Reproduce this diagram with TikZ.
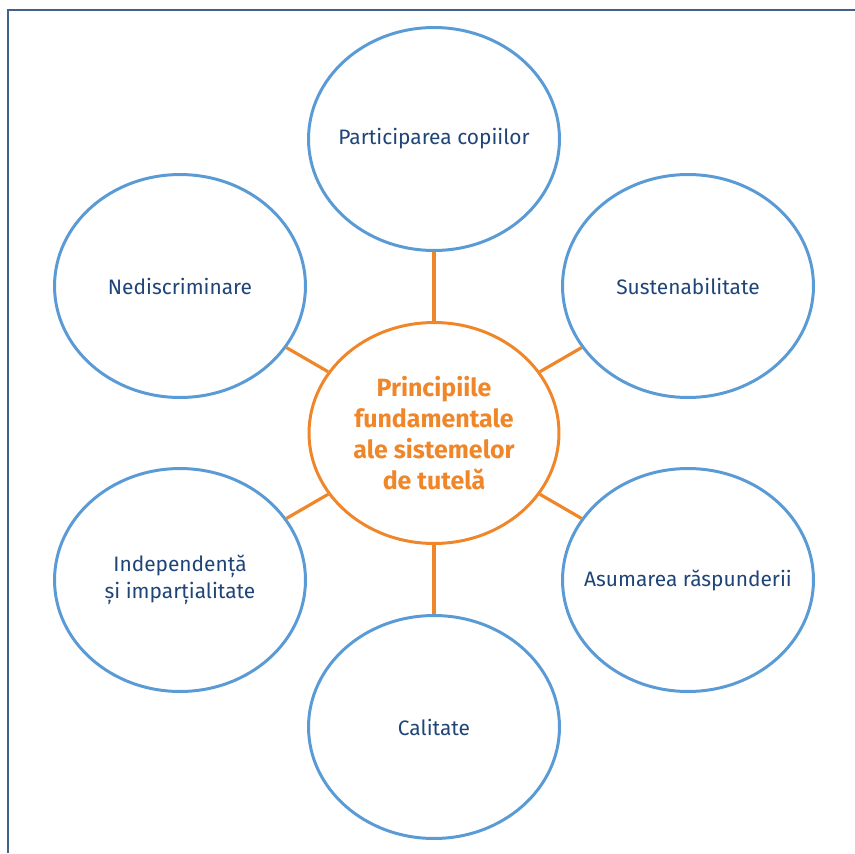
\documentclass[tikz,border=0pt]{standalone}
\usepackage{fontspec}
\setmainfont{Fira Sans}
\usepackage{xcolor}
\usetikzlibrary{shapes.geometric}
\definecolor{cerc}{HTML}{5B9BD5}
\definecolor{portocaliu}{HTML}{EF8629}
\definecolor{textalbastru}{HTML}{1F4477}
\definecolor{chenar}{HTML}{41608A}
\tikzset{
    principiu/.style={ellipse, draw=cerc, line width=1.7pt, minimum width=5.02cm, minimum height=4.46cm},
    eticheta/.style={align=center, inner sep=0pt, text=textalbastru, font=\fontsize{11.9}{15.5}\selectfont},
    centru/.style={ellipse, draw=portocaliu, line width=1.7pt, minimum width=5.0cm, minimum height=4.42cm,
        align=center, text=portocaliu, font=\bfseries\fontsize{14.2}{17.6}\selectfont},
    legatura/.style={draw=portocaliu, line width=1.8pt}
}

\begin{document}
\begin{tikzpicture}[x=0.02cm,y=-0.02cm]
    \useasboundingbox (0,0) rectangle (855,853);
    % Draw outside frame
    \draw[chenar, line width=0.85pt] (8,853) -- (8,10) -- (855,10);
    % Draw central node
    \node[centru] (principii) at (434,433) {Principiile\\fundamentale\\ale sistemelor\\de tutelă};
    % Draw surrounding principles
    \node[principiu] (participare) at (434,139) {};
    \node[principiu] (sustenabilitate) at (688,286) {};
    \node[principiu] (asumare) at (688,580) {};
    \node[principiu] (calitate) at (434,727) {};
    \node[principiu] (independenta) at (180,580) {};
    \node[principiu] (nediscriminare) at (180,286) {};
    % Texts of the principles
    \node[eticheta] (participare-text) at (participare) {Participarea copiilor};
    \node[eticheta] (sustenabilitate-text) at (sustenabilitate) {Sustenabilitate};
    \node[eticheta] (asumare-text) at (asumare) {Asumarea răspunderii};
    \node[eticheta] (calitate-text) at (calitate) {Calitate};
    \node[eticheta] (independenta-text) at (independenta) {Independență\\și imparțialitate};
    \node[eticheta] (nediscriminare-text) at (nediscriminare) {Nediscriminare};
    % Draw connectors
    \foreach \p in {participare, sustenabilitate, asumare, calitate, independenta, nediscriminare}
    {
        \draw[legatura] (principii) -- (\p);
    }
\end{tikzpicture}
\end{document}
